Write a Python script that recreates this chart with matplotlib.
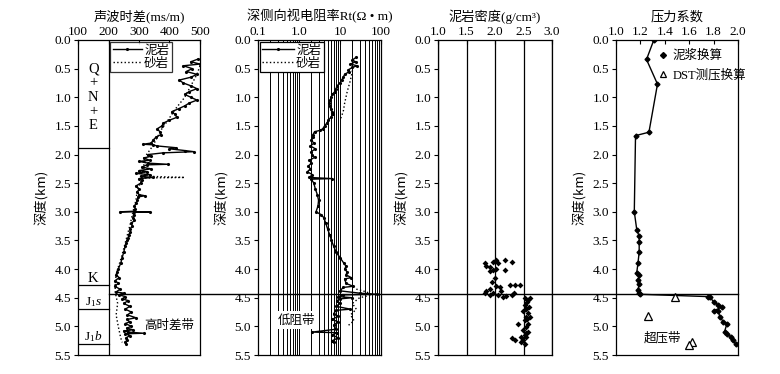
import numpy as np
import matplotlib
matplotlib.use('Agg')
import matplotlib.pyplot as plt
from matplotlib.lines import Line2D
from matplotlib.ticker import LogLocator, FixedLocator, NullFormatter

plt.rcParams['font.family'] = ['Liberation Serif', 'Noto Sans CJK SC', 'DejaVu Sans']
plt.rcParams['mathtext.fontset'] = 'custom'
plt.rcParams['mathtext.rm'] = 'Liberation Serif'
plt.rcParams['mathtext.it'] = 'Liberation Serif:italic'
plt.rcParams['axes.linewidth'] = 0.9

# ---- sonic (声波时差) ----
sonic_mud_depth = [0.33, 0.38, 0.42, 0.45, 0.50, 0.55, 0.60, 0.65, 0.70, 0.75, 0.80, 0.85, 0.90, 0.95,
                   1.00, 1.05, 1.10, 1.15, 1.20, 1.25, 1.30, 1.35, 1.40, 1.45, 1.50, 1.55, 1.60, 1.65,
                   1.70, 1.75, 1.80, 1.82, 1.83, 1.85, 1.88, 1.90, 1.93, 1.95, 1.97, 2.00, 2.03, 2.06,
                   2.10, 2.12, 2.15, 2.17, 2.18, 2.22, 2.25, 2.28, 2.30, 2.33, 2.35, 2.38, 2.40, 2.42,
                   2.45, 2.50, 2.55, 2.60, 2.65, 2.70, 2.72, 2.74, 2.80, 2.85, 2.90, 2.95, 2.99, 3.00,
                   3.00, 3.01, 3.05, 3.10, 3.15, 3.20, 3.25, 3.30, 3.35, 3.40, 3.45, 3.50, 3.55, 3.60,
                   3.70, 3.80, 3.90, 4.00, 4.05, 4.10, 4.15, 4.20, 4.25, 4.30, 4.35, 4.40, 4.42, 4.45,
                   4.48, 4.52, 4.55, 4.60, 4.65, 4.70, 4.75, 4.80, 4.85, 4.88, 4.92, 4.95, 5.00, 5.03,
                   5.06, 5.08, 5.10, 5.12, 5.13, 5.16, 5.20, 5.24, 5.27, 5.30]
sonic_mud_dt = [495, 470, 500, 445, 475, 455, 490, 470, 432, 445, 470, 490, 465, 450,
                470, 490, 465, 450, 430, 408, 418, 424, 400, 380, 375, 360, 368, 372,
                355, 346, 340, 313, 345, 360, 420, 400, 450, 480, 380, 330, 340, 315,
                335, 300, 330, 395, 325, 310, 340, 300, 325, 290, 335, 305, 345, 300,
                310, 305, 290, 300, 295, 300, 320, 296, 295, 290, 285, 288, 283, 238,
                336, 283, 282, 280, 285, 275, 278, 270, 272, 266, 265, 262, 258, 255,
                250, 245, 240, 232, 228, 225, 235, 222, 232, 220, 238, 225, 250, 235,
                255, 245, 265, 250, 270, 255, 275, 262, 290, 260, 270, 255, 275, 260,
                280, 250, 265, 315, 255, 270, 258, 262, 255, 258]
sonic_sand_depth = [0.45, 0.60, 0.80, 1.00, 1.20, 1.40, 1.55, 1.70, 1.85, 2.00, 2.10, 2.20, 2.30,
                    2.38, 2.40, 2.41, 2.50, 2.60, 2.80, 3.00, 3.20, 3.40, 3.60, 3.80, 4.00, 4.20,
                    4.40, 4.60, 4.80, 5.00, 5.20, 5.28]
sonic_sand_dt = [500, 490, 470, 450, 420, 395, 375, 360, 345, 325, 320, 315, 318,
                 330, 450, 310, 305, 295, 290, 280, 272, 262, 252, 242, 230, 222,
                 222, 230, 225, 232, 240, 245]

# ---- resistivity (深侧向视电阻率) ----
rt_mud_depth = [0.30, 0.35, 0.38, 0.42, 0.45, 0.48, 0.52, 0.55, 0.60, 0.65, 0.70, 0.75, 0.80, 0.85,
                0.90, 0.95, 1.00, 1.05, 1.10, 1.15, 1.20, 1.25, 1.30, 1.35, 1.40, 1.45, 1.50, 1.55,
                1.58, 1.60, 1.65, 1.70, 1.75, 1.80, 1.85, 1.90, 1.95, 2.00, 2.05, 2.10, 2.15, 2.20,
                2.25, 2.30, 2.35, 2.40, 2.42, 2.43, 2.50, 2.60, 2.70, 2.80, 2.90, 3.00, 3.05, 3.10,
                3.20, 3.30, 3.40, 3.50, 3.60, 3.70, 3.80, 3.90, 3.95, 4.00, 4.05, 4.10, 4.15, 4.17,
                4.25, 4.30, 4.32, 4.38, 4.42, 4.44, 4.45, 4.48, 4.50, 4.52, 4.55, 4.60, 4.65, 4.70,
                4.72, 4.78, 4.82, 4.88, 4.92, 4.98, 5.05, 5.10, 5.11, 5.15, 5.20, 5.25, 5.28]
rt_mud = [25, 20, 24, 18, 26, 20, 16, 17, 13, 12, 11, 10, 8.5, 8,
          7.5, 6.5, 6, 5.8, 5.5, 5.7, 5.9, 6.3, 6.7, 6.0, 5.2, 4.8, 4.2, 3.8,
          3.2, 2.4, 2.2, 2.2, 2.0, 2.3, 1.9, 2.5, 2.0, 2.1, 2.4, 1.8, 2.0, 1.7,
          1.9, 1.6, 2.1, 1.8, 6.5, 2.0, 2.3, 2.5, 2.8, 3.0, 2.9, 2.6, 3.5, 4.0,
          4.5, 5.0, 5.6, 6.2, 7.0, 8.0, 10.0, 12.5, 14, 13, 15, 14, 19, 13,
          14, 21, 12, 10, 30, 80, 12, 9, 20, 10, 8.5, 10, 8, 18,
          8, 7, 9, 6.5, 9, 7, 8, 2.1, 8.5, 6.5, 9, 6.5, 7]
rt_sand_depth = [0.47, 0.70, 0.90, 1.10, 1.25, 1.40, np.nan, 4.35, 4.40, 4.45, 4.50, 4.60, 4.70, 4.80, 4.90, 5.00]
rt_sand = [21, 18, 15, 13, 12, 10, np.nan, 25, 45, 60, 30, 20, 25, 18, 22, 15]

# ---- mudstone density (泥岩密度) ----
dens_depth = [3.90, 3.95, 3.97, 3.87, 3.84, 3.89, 3.84, 3.87, 4.02, 4.00, 4.04, 4.02, 4.16, 4.22,
              4.29, 4.31, 4.27, 4.27, 4.27, 4.35, 4.39, 4.42, 4.45, 4.45, 4.39, 4.47, 4.45, 4.42,
              4.42, 4.48,
              4.51, 4.54, 4.51, 4.63, 4.69, 4.74, 4.77, 4.83, 4.83, 4.89, 4.95, 4.96, 5.01, 5.06,
              5.09, 5.15, 5.18, 5.21, 5.23, 5.24, 5.28, 5.30, 5.18, 4.58, 4.66, 4.88, 5.12]
dens = [1.82, 1.85, 1.91, 1.96, 2.01, 2.05, 2.17, 2.29, 1.96, 2.02, 1.91, 2.17, 2.00, 1.94,
        2.01, 2.08, 2.26, 2.35, 2.43, 1.91, 1.85, 1.82, 1.91, 2.05, 2.11, 2.20, 2.29, 2.33,
        1.96, 2.14,
        2.52, 2.58, 2.61, 2.52, 2.55, 2.49, 2.58, 2.55, 2.61, 2.52, 2.58, 2.40, 2.55, 2.49,
        2.58, 2.52, 2.46, 2.29, 2.35, 2.49, 2.46, 2.52, 2.54, 2.57, 2.60, 2.56, 2.55]

# ---- pressure coefficient (压力系数) ----
mud_p_depth = [0.0, 0.34, 0.77, 1.61, 1.67, 3.00, 3.31, 3.43, 3.53, 3.70, 3.90, 4.06, 4.10, 4.19,
               4.26, 4.36, 4.42, 4.44, 4.48, 4.49, 4.57, 4.63, 4.66, 4.73, 4.74, 4.83, 4.92, 4.95,
               5.09, 5.13, 5.18, 5.24, 5.31]
mud_p = [1.31, 1.25, 1.34, 1.27, 1.16, 1.15, 1.17, 1.19, 1.19, 1.19, 1.18, 1.17, 1.19, 1.18,
         1.19, 1.18, 1.19, 1.20, 1.75, 1.77, 1.80, 1.84, 1.87, 1.80, 1.84, 1.85, 1.88, 1.91,
         1.89, 1.91, 1.94, 1.96, 1.98]
dst_depth = [4.49, 4.82, 5.27, 5.33]
dst_p = [1.48, 1.26, 1.62, 1.60]

boundary_depth = 4.43
strat_lines = [1.89, 4.27, 4.69, 5.31]

W, H = 780, 374
fig = plt.figure(figsize=(W / 100, H / 100), dpi=100)
fs = 9.5

def make_ax(left_px, right_px):
    top_px, bot_px = 40, 355
    return fig.add_axes([left_px / W, 1 - bot_px / H, (right_px - left_px) / W, (bot_px - top_px) / H])

ax1 = make_ax(78, 200)
ax2 = make_ax(258, 381)
ax3 = make_ax(438, 552)
ax4 = make_ax(616, 738)

for ax in (ax1, ax2, ax3, ax4):
    ax.set_ylim(5.5, 0.0)
    ax.set_yticks(np.arange(0, 5.51, 0.5))
    ax.set_yticklabels(['%.1f' % v for v in np.arange(0, 5.51, 0.5)], fontsize=fs)
    ax.xaxis.tick_top()
    ax.tick_params(axis='x', direction='in', length=3, labelsize=fs, pad=1.5, width=0.8)
    ax.tick_params(axis='y', direction='out', length=3, labelsize=fs, pad=2, width=0.8)
    ax.set_ylabel('深度(km)', fontsize=fs, labelpad=4, family=['Noto Sans CJK SC'])

# panel 1
ax1.set_xlim(100, 500)
ax1.set_xticks([100, 200, 300, 400, 500])
ax1.set_title('声波时差(ms/m)', fontsize=fs, pad=14)
ax1.axvline(200, color='black', lw=0.9)
for d in strat_lines:
    ax1.plot([100, 200], [d, d], color='black', lw=0.9)
ax1.plot(sonic_mud_dt, sonic_mud_depth, color='black', lw=1.0, marker='.', ms=2.5, label='泥岩')
ax1.plot(sonic_sand_dt, sonic_sand_depth, color='black', lw=1.0, ls=':', label='砂岩')
for txt, d in [('Q', 0.5), ('+', 0.75), ('N', 1.0), ('+', 1.25), ('E', 1.5), ('K', 4.16)]:
    ax1.text(150, d, txt, ha='center', va='center', fontsize=fs + 1)
ax1.text(150, 4.58, r'J$_1$$\mathit{s}$', ha='center', va='center', fontsize=fs)
ax1.text(150, 5.17, r'J$_1$$\mathit{b}$', ha='center', va='center', fontsize=fs)
ax1.text(398, 4.98, '高时差带', ha='center', va='center', fontsize=fs - 0.5, family=['Noto Sans CJK SC'])
leg1 = ax1.legend(loc='upper left', bbox_to_anchor=(0.25, 1.0), fontsize=fs - 0.5, frameon=True,
                  fancybox=False, edgecolor='black', borderpad=0.2, labelspacing=0.1,
                  handlelength=2.3, handletextpad=0.2, borderaxespad=0.15, markerfirst=True)
leg1.get_frame().set_linewidth(0.9)

# panel 2
ax2.set_xscale('log')
ax2.set_xlim(0.1, 100)
ax2.xaxis.set_major_locator(FixedLocator([0.1, 1, 10, 100]))
ax2.set_xticklabels(['0.1', '1.0', '10', '100'])
ax2.xaxis.set_minor_locator(LogLocator(base=10, subs=np.arange(2, 10)))
ax2.xaxis.set_minor_formatter(NullFormatter())
ax2.tick_params(axis='x', which='minor', length=0)
ax2.grid(True, axis='x', which='both', color='black', lw=0.7)
ax2.set_title('深侧向视电阻率Rt(Ω • m)', fontsize=fs, pad=14)
ax2.plot(rt_mud, rt_mud_depth, color='black', lw=1.0, marker='.', ms=2.5, label='泥岩')
ax2.plot(rt_sand, rt_sand_depth, color='black', lw=1.0, ls=':', label='砂岩')
ax2.text(0.85, 4.89, '低阻带', ha='center', va='center', fontsize=fs - 0.5, family=['Noto Sans CJK SC'],
         bbox=dict(facecolor='white', edgecolor='none', pad=1.5))
leg2 = ax2.legend(loc='upper left', bbox_to_anchor=(0.0, 1.0), fontsize=fs - 0.5, frameon=True,
                  fancybox=False, edgecolor='black', framealpha=1, borderpad=0.2, labelspacing=0.1,
                  handlelength=2.5, handletextpad=0.2, borderaxespad=0.15)
leg2.get_frame().set_linewidth(0.9)

# panel 3
ax3.set_xlim(1.0, 3.0)
ax3.set_xticks([1.0, 1.5, 2.0, 2.5, 3.0])
ax3.set_xticklabels(['1.0', '1.5', '2.0', '2.5', '3.0'])
ax3.grid(True, axis='x', color='black', lw=0.9)
ax3.set_title('泥岩密度(g/cm³)', fontsize=fs, pad=14)
ax3.scatter(dens, dens_depth, s=9, color='black', marker='D', linewidths=0)

# panel 4
ax4.set_xlim(1.0, 2.0)
ax4.set_xticks(np.arange(1.0, 2.01, 0.2))
ax4.set_xticklabels(['%.1f' % v for v in np.arange(1.0, 2.01, 0.2)])
ax4.set_title('压力系数', fontsize=fs, pad=14, family=['Noto Sans CJK SC'])
ax4.plot(mud_p, mud_p_depth, color='black', lw=1.0, marker='D', ms=2.5, label='泥浆换算')
ax4.plot(dst_p, dst_depth, ls='none', marker='^', ms=6, mfc='white', mec='black', mew=0.9,
         label='DST测压换算')
ax4.text(1.38, 5.2, '超压带', ha='center', va='center', fontsize=fs - 0.5, family=['Noto Sans CJK SC'])
h4, l4 = ax4.get_legend_handles_labels()
h4[0] = Line2D([], [], ls='none', marker='D', ms=3, color='black')
h4[1] = Line2D([], [], ls='none', marker='^', ms=5, mfc='white', mec='black', mew=0.9)
ax4.legend(h4, l4, loc='upper left', bbox_to_anchor=(0.3, 0.985), fontsize=fs - 0.5, frameon=False,
           handlelength=0.8, handletextpad=0.4, labelspacing=0.6, borderaxespad=0.0)

# boundary line across all panels
inv = fig.transFigure.inverted()
p0 = inv.transform(ax1.transData.transform((200, boundary_depth)))
p1 = inv.transform(ax4.transData.transform((2.0, boundary_depth)))
fig.add_artist(Line2D([p0[0], p1[0]], [p0[1], p1[1]], transform=fig.transFigure, color='black', lw=1.0))

fig.savefig('out.png', dpi=100)
